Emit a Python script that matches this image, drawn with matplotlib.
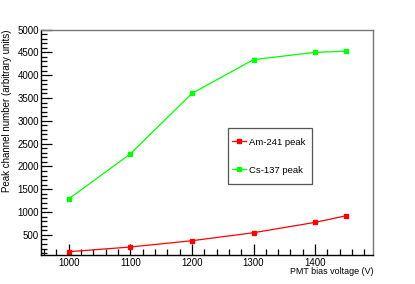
import matplotlib
matplotlib.use("Agg")
import matplotlib.pyplot as plt
from matplotlib.patches import Rectangle
from matplotlib.ticker import MultipleLocator

# PMT bias voltage (V)
voltage = [1000, 1100, 1200, 1300, 1400, 1450]
# peak channel numbers
am241 = [132, 235, 373, 548, 775, 919]
cs137 = [1290, 2274, 3600, 4340, 4500, 4525]

plt.rcParams['font.family'] = ['Liberation Sans', 'DejaVu Sans']

W, H = 415, 284
L, R, T, B = 41, 373, 29.5, 255
fig = plt.figure(figsize=(W / 100, H / 100), dpi=100)
ax = fig.add_axes([L / W, 1 - B / H, (R - L) / W, (B - T) / H])

ax.plot(voltage, am241, color='#ff0000', marker='s', markersize=3.2,
        linewidth=0.9, label='Am-241 peak')
ax.plot(voltage, cs137, color='#00ff00', marker='s', markersize=3.2,
        linewidth=0.9, label='Cs-137 peak')

ax.set_xlim(955, 1494)
ax.set_ylim(60, 5000)

ax.xaxis.set_major_locator(MultipleLocator(100))
ax.xaxis.set_minor_locator(MultipleLocator(20))
ax.yaxis.set_major_locator(MultipleLocator(500))
ax.yaxis.set_minor_locator(MultipleLocator(100))
ax.tick_params(which='both', direction='in', top=False, right=False,
               labelsize=7, width=0.9, colors='black')
ax.tick_params(axis='x', pad=2)
ax.tick_params(axis='y', pad=1.5)
ax.tick_params(which='major', length=8)
ax.tick_params(which='minor', length=4)

for s in ['left', 'bottom']:
    ax.spines[s].set_color('black')
    ax.spines[s].set_linewidth(1.0)
for s in ['top', 'right']:
    ax.spines[s].set_color('#777777')
    ax.spines[s].set_linewidth(1.0)

ax.set_xlabel('PMT bias voltage (V)', fontsize=6.4, loc='right')
ax.xaxis.set_label_coords(1.0, -(271.5 - B) / (B - T), transform=ax.transAxes)
ax.xaxis.label.set_verticalalignment('center')
ax.set_ylabel('Peak channel number (arbitrary units)', fontsize=7, loc='top')
ax.yaxis.set_label_coords(-(L - 7.5) / (R - L), 1.0, transform=ax.transAxes)
ax.yaxis.label.set_verticalalignment('center')

# legend box (ROOT style TLegend)
bx0, bx1, by0, by1 = 228, 311.5, 127.5, 183.5
fig.add_artist(Rectangle((bx0 / W, 1 - by1 / H), (bx1 - bx0) / W, (by1 - by0) / H,
                         transform=fig.transFigure, facecolor='white',
                         edgecolor='#555555', linewidth=0.9, zorder=3))
leg = fig.legend(loc='upper left', bbox_to_anchor=(231.5 / W, 1 - 137.8 / H),
                 fontsize=6.8, frameon=False, borderpad=0, borderaxespad=0,
                 handlelength=1.5, handletextpad=0.35, labelspacing=2.0,
                 markerscale=0.8)
leg.set_zorder(4)

fig.savefig('out.png', dpi=100)
